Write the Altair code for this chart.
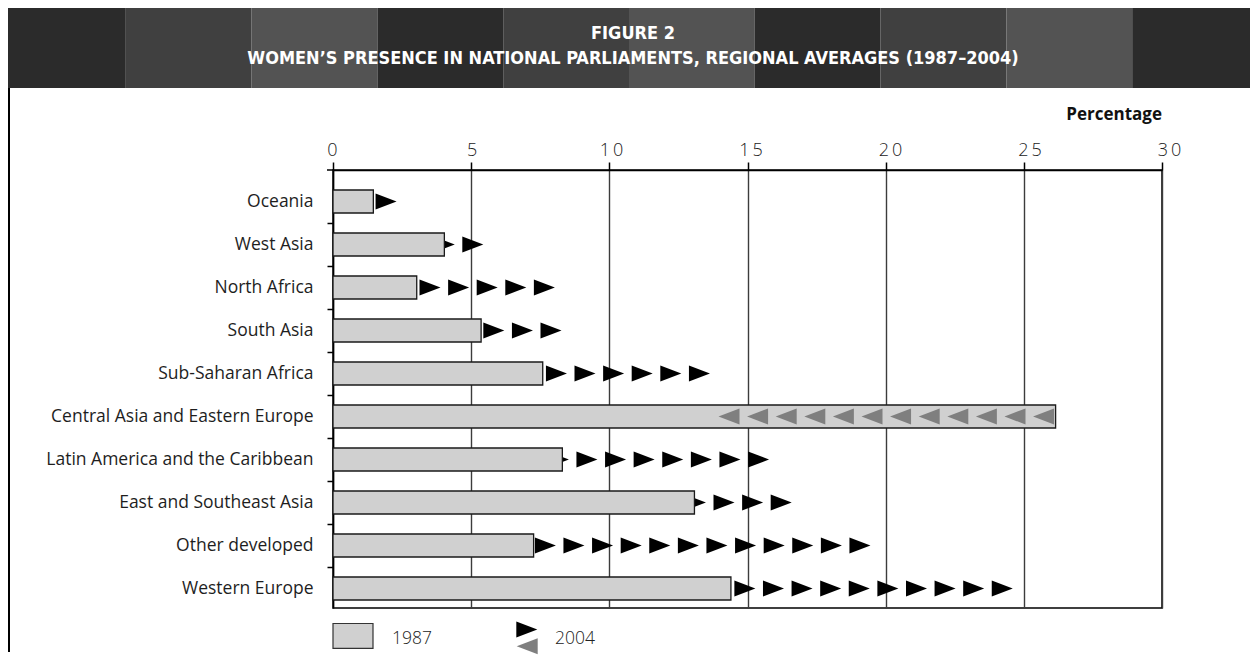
import altair as alt
import pandas as pd

# ---------------- data ----------------
regions = [
    "Oceania",
    "West Asia",
    "North Africa",
    "South Asia",
    "Sub-Saharan Africa",
    "Central Asia and Eastern Europe",
    "Latin America and the Caribbean",
    "East and Southeast Asia",
    "Other developed",
    "Western Europe",
]
v1987 = [1.46, 4.03, 3.03, 5.36, 7.59, 26.15, 8.30, 13.08, 7.26, 14.40]
v2004 = [2.30, 5.44, 8.03, 8.27, 13.64, 13.95, 15.78, 16.60, 19.45, 24.60]
x_ticks = [0, 5, 10, 15, 20, 25, 30]

title_line1 = "FIGURE 2"
title_line2 = "WOMEN\u2019S PRESENCE IN NATIONAL PARLIAMENTS, REGIONAL AVERAGES (1987\u20132004)"
unit_label = "Percentage"
legend_labels = ["1987", "2004"]

# ---------------- derived tables ----------------
ARROW_STEP = 1.035  # repeat distance of the arrow heads, in percentage points
bars = pd.DataFrame({"region": regions, "v1987": v1987, "v2004": v2004})
up_rows, down_rows = [], []
for r, a, b in zip(regions, v1987, v2004):
    t = b
    if b >= a:
        while t > a:
            up_rows.append({"region": r, "tip": t})
            t -= ARROW_STEP
    else:
        while t < a:
            down_rows.append({"region": r, "tip": t})
            t += ARROW_STEP
up = pd.DataFrame(up_rows)
down = pd.DataFrame(down_rows)
one = pd.DataFrame({"k": [0]})

# ---------------- styles ----------------
W, H = 829, 438
RIGHT = "M0,0L-2,-0.76L-2,0.76Z"
LEFT = "M0,0L2,-0.76L2,0.76Z"
TRI_SIZE = 441
BAR_FILL = "#d0d0d0"
LABEL_FONT = "Open Sans"
HEAD_FONT = "'Liberation Sans Narrow', 'DejaVu Sans Condensed', 'Roboto Condensed', sans-serif"

xscale = alt.Scale(domain=[0, 30], nice=False, zero=True)
yscale = alt.Scale(domain=regions, paddingInner=0.465, paddingOuter=0.3256, align=0.714)

xaxis = alt.Axis(
    orient="top", values=x_ticks, title=None, grid=True,
    gridColor="#3c3c3c", gridWidth=1.4,
    domainColor="black", domainWidth=1.5,
    tickColor="black", tickWidth=1.5, tickSize=8,
    labelFont=LABEL_FONT, labelFontSize=18, labelFontWeight=300,
    labelColor="#222222", labelPadding=3, labelFlush=False, labelOverlap=False,
    labelOffset={"expr": "datum.value * 0.27 - 1"},
    labelExpr="join(split(datum.label, ''), '\u2009')",
)
yaxis = alt.Axis(
    title=None, domainColor="black", domainWidth=1.5,
    tickColor="black", tickWidth=1.5, tickSize=6,
    tickOffset=-21.5, labelOffset=21.5,
    tickOpacity={"condition": {"test": "datum.value === 'Oceania'", "value": 0}, "value": 1},
    labelFont=LABEL_FONT, labelFontSize=17.5, labelColor="#1e1e1e",
    labelPadding=14, labelLimit=400,
)

X = lambda f: alt.X(f, type="quantitative", scale=xscale, axis=xaxis)
Y = alt.Y("region:N", scale=yscale, axis=yaxis, sort=regions)

layers = []

# header band with vertical stripes (page x 0..1258, y 0..88; plot origin at page 333,170)
stripe_cols = ["#2b2b2b", "#404040", "#535353"]
for i in range(10):
    x0 = max(i * 125.8 - 333, -325)
    x1 = min((i + 1) * 125.8 - 333, 917)
    layers.append(
        alt.Chart(one).mark_rect(fill=stripe_cols[i % 3] if i < 9 else stripe_cols[0], strokeWidth=0)
        .encode(x=alt.value(x0), x2=alt.value(x1), y=alt.value(-162), y2=alt.value(-82))
    )
for txt, yy in [(title_line1, -136), (title_line2, -111.5)]:
    layers.append(
        alt.Chart(one).mark_text(text=txt, align="center", baseline="middle", font=HEAD_FONT,
                                 fontSize=18, fontWeight="bold", color="white")
        .encode(x=alt.value(300), y=alt.value(yy))
    )
# left frame line
layers.append(
    alt.Chart(one).mark_rule(color="black", strokeWidth=2)
    .encode(x=alt.value(-324), y=alt.value(-82), y2=alt.value(482))
)
# short extension of the top axis line to the left
layers.append(
    alt.Chart(one).mark_rule(color="black", strokeWidth=1.5)
    .encode(x=alt.value(-6), x2=alt.value(0), y=alt.value(0))
)
# unit label
layers.append(
    alt.Chart(one).mark_text(text=unit_label, align="right", baseline="alphabetic", font=LABEL_FONT,
                             fontSize=17, fontWeight="bold", color="#111111")
    .encode(x=alt.value(W), y=alt.value(-50.5))
)

# data marks
layers.append(
    alt.Chart(up).mark_point(shape=RIGHT, size=TRI_SIZE, filled=True, fill="black", opacity=1, strokeWidth=0)
    .encode(x=X("tip"), y=Y)
)
layers.append(
    alt.Chart(bars).mark_bar(fill=BAR_FILL, stroke="#1a1a1a", strokeWidth=1.3)
    .encode(x=X("v1987"), y=Y)
)
layers.append(
    alt.Chart(down).mark_point(shape=LEFT, size=TRI_SIZE, filled=True, fill="#7f7f7f", opacity=1, strokeWidth=0)
    .encode(x=X("tip"), y=Y)
)

# legend
layers.append(
    alt.Chart(one).mark_rect(fill=BAR_FILL, stroke="#333333", strokeWidth=1.2)
    .encode(x=alt.value(0), x2=alt.value(40), y=alt.value(453.5), y2=alt.value(478.3))
)
layers.append(
    alt.Chart(one).mark_point(shape=RIGHT, size=TRI_SIZE, filled=True, fill="black", opacity=1, strokeWidth=0)
    .encode(x=alt.value(204.3), y=alt.value(459.5))
)
layers.append(
    alt.Chart(one).mark_point(shape=LEFT, size=TRI_SIZE, filled=True, fill="#7f7f7f", opacity=1, strokeWidth=0)
    .encode(x=alt.value(183.7), y=alt.value(476.3))
)
for txt, xx in zip(legend_labels, [59, 222]):
    layers.append(
        alt.Chart(one).mark_text(text=txt, align="left", baseline="middle", font=LABEL_FONT,
                                 fontSize=17.5, fontWeight=300, color="#222222")
        .encode(x=alt.value(xx), y=alt.value(468.5))
    )

chart = (
    alt.layer(*layers)
    .properties(width=W, height=H, padding=0, background="white")
    .configure_view(stroke="black", strokeWidth=1.5)
)

chart.save("out.html", embed_options={"renderer": "svg", "actions": False})
